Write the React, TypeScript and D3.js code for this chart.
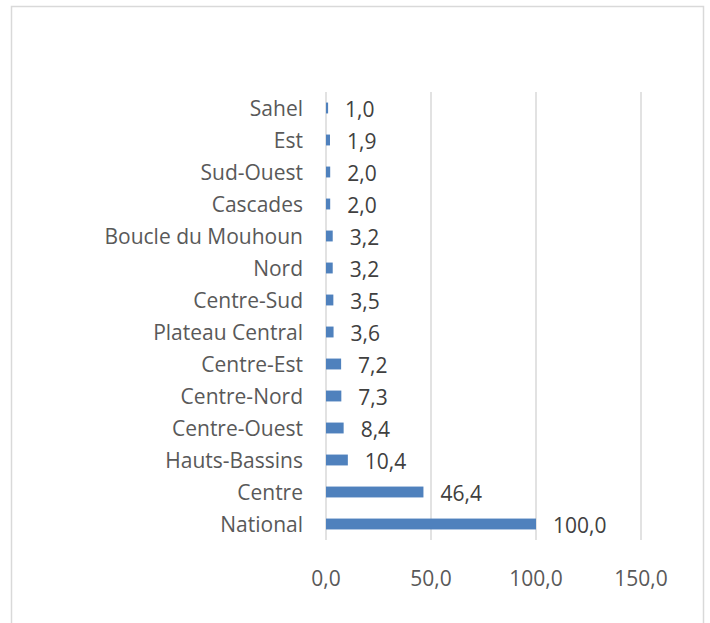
import React from "react";
import * as d3 from "d3";

const categories = ["Sahel","Est","Sud-Ouest","Cascades","Boucle du Mouhoun","Nord","Centre-Sud","Plateau Central","Centre-Est","Centre-Nord","Centre-Ouest","Hauts-Bassins","Centre","National"];
const values = [1.0,1.9,2.0,2.0,3.2,3.2,3.5,3.6,7.2,7.3,8.4,10.4,46.4,100.0];
const ticks = [0,50,100,150];

const fmt = (v: number) => v.toFixed(1).replace(".", ",");

export default function App() {
  const W = 710, H = 623;
  const x = d3.scaleLinear().domain([0, 150]).range([326, 641]);
  const y = d3.scaleBand<string>().domain(categories).range([92, 540]).paddingInner(0.66).paddingOuter(0.33);
  const font = "Open Sans, Lato, sans-serif";
  return (
    <svg width={W} height={H} style={{ position: "absolute", left: 0, top: 0 }}>
      <rect x={0} y={0} width={W} height={H} fill="#fff" />
      <rect x={11.5} y={6.5} width={692} height={640} fill="#fff" stroke="#d9d9d9" strokeWidth={1.5} />
      {ticks.map(t => (
        <line key={t} x1={x(t)} x2={x(t)} y1={92} y2={540} stroke="#d9d9d9" strokeWidth={1.5} />
      ))}
      {categories.map((c, i) => {
        const yc = (y(c) as number) + y.bandwidth() / 2;
        return (
          <g key={c}>
            <rect x={x(0)} y={(y(c) as number)} width={x(values[i]) - x(0)} height={y.bandwidth()} fill="#4f81bd" />
            <text x={303} y={yc - 0.5} textAnchor="end" dominantBaseline="central" fontFamily={font} fontSize={21} fill="#595959">{c}</text>
            <text x={x(values[i]) + 17} y={yc + 1} dominantBaseline="central" fontFamily={font} fontSize={21} fill="#404040">{fmt(values[i])}</text>
          </g>
        );
      })}
      {ticks.map(t => (
        <text key={t} x={x(t)} y={578} textAnchor="middle" dominantBaseline="central" fontFamily={font} fontSize={21} fill="#595959">{fmt(t)}</text>
      ))}
    </svg>
  );
}
